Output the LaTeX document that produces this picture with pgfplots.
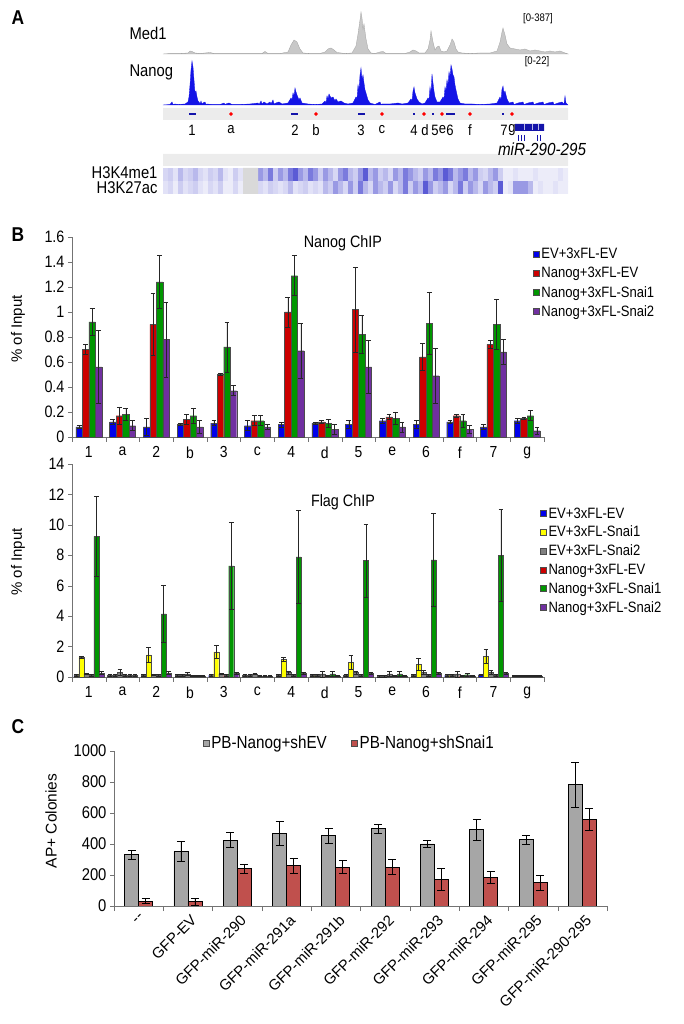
\documentclass[border=0pt]{standalone}
\usepackage{fontspec}
\setmainfont{Liberation Sans}[FakeStretch=0.87]
\setsansfont{Liberation Sans}[FakeStretch=0.87]
\newfontfamily\rotfont{Liberation Sans}
\usepackage{pgfplots}
\pgfplotsset{compat=1.18}

\definecolor{medgray}{RGB}{200,200,200}
\definecolor{trackblue}{RGB}{20,20,230}
\definecolor{featblue}{RGB}{20,20,170}
\definecolor{evblue}{RGB}{0,0,235}
\definecolor{nred}{RGB}{204,0,0}
\definecolor{ngreen}{RGB}{0,150,0}
\definecolor{npurple}{RGB}{112,48,160}
\definecolor{fyellow}{RGB}{255,255,0}
\definecolor{fgray}{RGB}{128,128,128}
\definecolor{cgray}{RGB}{166,166,166}
\definecolor{cred}{RGB}{192,80,77}
\definecolor{bandgray}{RGB}{236,236,236}

\pgfplotsset{
  track/.style={scale only axis, hide axis, clip=false, width=405pt, xmin=163, xmax=568},
  eb/.style={error bars/.cd, y dir=both, y explicit,
    error bar style={black!85, line width=0.6pt},
    error mark options={rotate=90, mark size=2.4pt, black!85, line width=0.6pt}},
  ebc/.style={error bars/.cd, y dir=both, y explicit,
    error bar style={black, line width=0.8pt},
    error mark options={rotate=90, mark size=4pt, black, line width=0.8pt}},
  sq/.style={legend image code/.code={\draw[##1, draw=black!70] (0pt,-3pt) rectangle (6pt,3pt);}},
  chip/.style={
    scale only axis, width=472pt, xmin=-0.5, xmax=13.5, ymin=0, clip=false,
    axis x line=bottom, axis y line=left, axis line style={-, black!55},
    ybar=0pt,
    xtick={0,...,13}, xticklabels={1,a,2,b,3,c,4,d,5,e,6,f,7,g},
    major x tick style={draw=none},
    minor xtick={-0.5,0.5,...,13.5},
    tick align=outside, major tick length=4pt, minor tick length=5pt,
    every tick/.style={black!55},
    yticklabel style={font=\fontsize{16.5}{18}\selectfont},
    xticklabel style={font=\fontsize{16}{18}\selectfont, yshift=-2pt},
    /pgf/number format/assume math mode=true,
    legend cell align=left,
    legend style={draw=none, fill=none, row sep=3pt, font=\fontsize{15}{17}\selectfont},
    sq
  },
  nbar/.style={fill=#1, draw=black!70, line width=0.4pt}
}

\begin{document}
\begin{tikzpicture}[x=1pt,y=1pt]
\path[use as bounding box] (0,0) rectangle (683,1024);

% ---------------- panel A ----------------
\node[anchor=west, font=\fontsize{20}{22}\selectfont\bfseries] at (8,1006) {A};
\node[anchor=west, font=\fontsize{17}{19}\selectfont] at (126,991) {Med1};
\node[anchor=west, font=\fontsize{17}{19}\selectfont] at (126,952) {Nanog};
\node[font=\fontsize{11}{12}\selectfont] at (538,1005) {[0-387]};
\node[font=\fontsize{11}{12}\selectfont] at (537,962) {[0-22]};
\node[anchor=east, font=\fontsize{17}{19}\selectfont] at (161,851) {H3K4me1};
\node[anchor=east, font=\fontsize{17}{19}\selectfont] at (161,836) {H3K27ac};

\begin{axis}[track, at={(163pt,970pt)}, anchor=south west, height=42pt, ymin=0, ymax=42]
\addplot[fill=medgray, draw=medgray!80!black, line width=0.3pt] coordinates {
(163,0)(170,0.5)(180,0.5)(188,1)(190,3)(192,2.5)(195,1)(200,0.5)(210,1.5)(214,0.5)(225,0.5)(240,0.5)(250,0.5)(262,0.5)(265,2.5)(268,0.5)(280,0.5)(288,2)(291,9)(294,14)(297,12)(300,5)(303,1)(310,0.5)(320,0.5)(325,2)(328,5)(331,6)(334,4)(337,1.5)(345,0.5)(352,1)(356,8)(358,20)(360,34)(361,42)(362,36)(363,25)(364,30)(366,15)(368,5)(371,1)(375,0.5)(380,2)(383,2.5)(386,0.5)(395,0.5)(405,0.5)(410,2)(413,4)(416,3)(419,1)(425,1)(428,5)(430,14)(431,23)(433,12)(435,4)(437,7)(439,8)(441,3)(444,2)(447,3)(450,9)(452,15)(454,12)(456,5)(458,2)(462,1)(470,0.5)(480,1)(490,1)(497,3)(500,12)(502,22)(503,26)(505,19)(507,10)(510,6)(515,5)(520,4)(525,5)(530,3)(535,4)(540,3)(545,2)(550,3)(555,2)(560,3)(565,1)(568,0)
} \closedcycle;
\end{axis}

\begin{axis}[track, at={(163pt,919pt)}, anchor=south west, height=44pt, ymin=0, ymax=44]
\addplot[fill=trackblue, draw=trackblue, line width=0.3pt] coordinates {
(163,0)(170,0.5)(172,3)(173,0.5)(175,1)(178,0.5)(185,1)(188,3)(189,8)(190,20)(191,35)(192,44)(193,38)(194,25)(195,12)(196,14)(197,8)(198,4)(199,3)(200,1)(201,4)(202,1)(203,2)(205,3)(206,0.5)(207,1)(212,0.5)(220,0.5)(224,2)(225,0.5)(226,1)(229,2)(232,0.5)(240,0.5)(250,1)(258,2)(259,0.5)(261,4)(262,1)(264,3)(267,1)(270,3)(271,1)(273,5)(274,1)(276,2)(279,3)(282,1)(288,2)(291,7)(292,5)(293,12)(294,9)(295,17)(296,13)(297,10)(299,5)(300,7)(302,2)(308,1)(315,0.5)(322,1)(325,4)(326,2)(327,9)(328,6)(329,11)(331,7)(333,8)(335,4)(336,6)(338,3)(341,4)(344,2)(348,1)(353,2)(356,8)(357,6)(358,20)(359,15)(360,30)(361,37)(362,26)(363,30)(364,22)(365,15)(366,12)(368,5)(370,2)(375,0.5)(380,3)(381,0.5)(382,1)(390,1)(398,2)(402,1)(408,2)(411,6)(412,4)(413,14)(414,18)(415,12)(416,9)(417,6)(419,3)(422,1)(425,2)(428,7)(429,5)(430,18)(431,12)(432,31)(433,22)(434,14)(435,8)(437,3)(440,3)(443,8)(444,6)(445,18)(446,14)(447,25)(448,20)(449,33)(450,28)(451,40)(452,36)(453,30)(454,28)(455,20)(456,15)(458,6)(460,2)(465,1)(472,1)(480,0.5)(490,1)(497,2)(500,8)(501,5)(502,16)(503,19)(504,12)(505,14)(507,6)(509,2)(513,3)(514,0.5)(518,2)(523,3)(524,0.5)(528,2)(533,3)(534,0.5)(538,2)(543,3)(544,0.5)(548,2)(553,3)(554,0.5)(558,2)(562,3)(564,1)(565,9)(566,2)(568,0)
} \closedcycle;
\end{axis}

% feature band, gene, second band (y in pixels from the top)
\begin{axis}[track, at={(163pt,858pt)}, anchor=south west, height=60pt, ymin=106, ymax=166, y dir=reverse]
\addplot[draw=none, fill=bandgray] coordinates {(163,108)(568,108)(568,120)(163,120)(163,108)};
\addplot[draw=none, fill=bandgray] coordinates {(163,154)(568,154)(568,166)(163,166)(163,154)};
\addplot[featblue, line width=2.6pt, unbounded coords=jump] coordinates {
(189,114)(196,114) (nan,nan) (291,114)(298,114) (nan,nan) (358,114)(365,114) (nan,nan)
(413,114)(415,114) (nan,nan) (432,114)(434,114) (nan,nan) (446,114)(455,114) (nan,nan) (502,114)(504,114)};
\addplot[only marks, mark=*, mark size=1.6pt, red, mark options={draw=red}] coordinates {
(231,114)(316,114)(382,114)(424,114)(442,114)(470,114)(512,114)};
\addplot[draw=none, fill=featblue] coordinates {(515,124)(544,124)(544,131)(515,131)(515,124)};
\addplot[white!70!featblue, line width=0.4pt, unbounded coords=jump] coordinates {
(524,124.5)(524,130.5) (nan,nan) (532,124.5)(532,130.5) (nan,nan) (538,124.5)(538,130.5)};
\addplot[featblue, line width=0.9pt, unbounded coords=jump] coordinates {
(518,135)(518,141) (nan,nan) (521,135)(521,141) (nan,nan) (524,135)(524,141) (nan,nan)
(537,135)(537,141) (nan,nan) (540,135)(540,141)};
\begin{scope}[font=\fontsize{15}{17}\selectfont]
\node at (axis cs:192,130) {1};
\node at (axis cs:231,130) {a};
\node at (axis cs:295,130) {2};
\node at (axis cs:316,130) {b};
\node at (axis cs:361,130) {3};
\node at (axis cs:382,130) {c};
\node at (axis cs:414,130) {4};
\node at (axis cs:425,130) {d};
\node at (axis cs:435,130) {5};
\node at (axis cs:442.5,130) {e};
\node at (axis cs:450,130) {6};
\node at (axis cs:470,130) {f};
\node at (axis cs:504,130) {7};
\node at (axis cs:512,130) {g};
\end{scope}
\node[font=\fontsize{17.5}{19}\selectfont\itshape] at (axis cs:542,149) {miR-290-295};
\end{axis}

% histone heat map
\begin{axis}[scale only axis, hide axis, at={(163pt,830pt)}, anchor=south west,
  width=405pt, height=26pt, xmin=-0.5, xmax=80.5, ymin=-0.5, ymax=1.5, y dir=reverse,
  colormap={hist}{rgb255=(246,246,252) rgb255=(200,200,240) rgb255=(60,60,205)},
  point meta min=0, point meta max=9]
\addplot[matrix plot*, mesh/cols=81, point meta=explicit] table[row sep=\\,
  x expr={mod(\coordindex,81)}, y expr={floor(\coordindex/81)}, meta=c] {
c\\ 3\\4\\2\\5\\3\\4\\5\\3\\2\\4\\3\\5\\2\\1\\4\\2\\ 0\\0\\0\\
6\\5\\7\\4\\6\\5\\7\\8\\6\\5\\7\\6\\4\\6\\5\\3\\6\\7\\5\\4\\6\\8\\5\\6\\4\\5\\3\\6\\5\\7\\
6\\5\\4\\6\\5\\7\\6\\8\\7\\5\\6\\7\\5\\6\\4\\3\\5\\6\\4\\
1\\1\\2\\1\\1\\1\\2\\1\\1\\1\\1\\2\\1\\
2\\3\\1\\4\\2\\3\\4\\2\\1\\3\\2\\4\\1\\1\\3\\1\\ 0\\0\\0\\
3\\2\\4\\3\\2\\3\\5\\2\\3\\4\\2\\3\\2\\
5\\4\\6\\5\\3\\6\\4\\7\\5\\3\\6\\5\\4\\6\\3\\5\\7\\4\\6\\5\\8\\6\\4\\5\\6\\3\\5\\7\\4\\6\\5\\3\\6\\5\\4\\8\\
1\\2\\ 6\\6\\6\\5\\ 1\\2\\1\\1\\2\\1\\1\\
};
\addplot[draw=none, fill=black!15] coordinates {(15.5,-0.5)(18.5,-0.5)(18.5,1.5)(15.5,1.5)(15.5,-0.5)};
\addplot[red!40!black, line width=0.8pt] coordinates {(-0.5,1.55)(80.5,1.55)};
\end{axis}

% ---------------- panel B, Nanog ChIP ----------------
\node[anchor=west, font=\fontsize{20}{22}\selectfont\bfseries] at (8,789) {B};
\node[rotate=90, font=\fontsize{15}{17}\selectfont\rotfont] at (18,695) {\% of Input};
\begin{axis}[chip, at={(72pt,587pt)}, anchor=south west, height=200pt, ymax=1.6,
  ytick={0,0.2,...,1.6}, bar width=6.5pt,
  legend style={at={(0.97,0.965)}, anchor=north west}]
\addplot[nbar=evblue, eb] coordinates {(0,0.08)+-(0,0.01) (1,0.12)+-(0,0.02) (2,0.08)+-(0,0.07) (3,0.10)+-(0,0.01) (4,0.11)+-(0,0.02) (5,0.09)+-(0,0.04) (6,0.10)+-(0,0.02) (7,0.11)+-(0,0.01) (8,0.10)+-(0,0.03) (9,0.13)+-(0,0.02) (10,0.10)+-(0,0.03) (11,0.12)+-(0,0.01) (12,0.08)+-(0,0.02) (13,0.13)+-(0,0.02)};
\addlegendentry{EV+3xFL-EV}
\addplot[nbar=nred, eb] coordinates {(0,0.70)+-(0,0.04) (1,0.17)+-(0,0.07) (2,0.90)+-(0,0.25) (3,0.14)+-(0,0.04) (4,0.50)+-(0,0.01) (5,0.13)+-(0,0.04) (6,1.00)+-(0,0.12) (7,0.12)+-(0,0.01) (8,1.02)+-(0,0.34) (9,0.16)+-(0,0.02) (10,0.64)+-(0,0.11) (11,0.17)+-(0,0.01) (12,0.74)+-(0,0.03) (13,0.15)+-(0,0.01)};
\addlegendentry{Nanog+3xFL-EV}
\addplot[nbar=ngreen, eb] coordinates {(0,0.92)+-(0,0.11) (1,0.18)+-(0,0.05) (2,1.24)+-(0,0.21) (3,0.17)+-(0,0.06) (4,0.72)+-(0,0.20) (5,0.13)+-(0,0.04) (6,1.29)+-(0,0.16) (7,0.11)+-(0,0.03) (8,0.82)+-(0,0.15) (9,0.15)+-(0,0.05) (10,0.91)+-(0,0.25) (11,0.13)+-(0,0.05) (12,0.90)+-(0,0.20) (13,0.17)+-(0,0.04)};
\addlegendentry{Nanog+3xFL-Snai1}
\addplot[nbar=npurple, eb] coordinates {(0,0.56)+-(0,0.29) (1,0.09)+-(0,0.04) (2,0.78)+-(0,0.30) (3,0.08)+-(0,0.05) (4,0.37)+-(0,0.04) (5,0.08)+-(0,0.02) (6,0.69)+-(0,0.22) (7,0.06)+-(0,0.04) (8,0.56)+-(0,0.21) (9,0.08)+-(0,0.04) (10,0.49)+-(0,0.22) (11,0.06)+-(0,0.03) (12,0.68)+-(0,0.10) (13,0.05)+-(0,0.03)};
\addlegendentry{Nanog+3xFL-Snai2}
\node[font=\fontsize{16.5}{18}\selectfont] at (rel axis cs:0.574,0.97) {Nanog ChIP};
\end{axis}

% ---------------- panel B, Flag ChIP ----------------
\node[rotate=90, font=\fontsize{15}{17}\selectfont\rotfont] at (18,462) {\% of Input};
\begin{axis}[chip, at={(72pt,347pt)}, anchor=south west, height=213pt, ymax=14,
  ytick={0,2,...,14}, bar width=5pt,
  legend style={at={(0.985,0.815)}, anchor=north west, row sep=2.5pt}]
\addplot[nbar=evblue, eb] coordinates {(0,0.1)+-(0,0.05) (1,0.1)+-(0,0.05) (2,0.1)+-(0,0.05) (3,0.1)+-(0,0.05) (4,0.1)+-(0,0.05) (5,0.1)+-(0,0.05) (6,0.1)+-(0,0.05) (7,0.1)+-(0,0.05) (8,0.1)+-(0,0.05) (9,0.05)+-(0,0.05) (10,0.1)+-(0,0.05) (11,0.1)+-(0,0.05) (12,0.15)+-(0,0.05) (13,0.05)+-(0,0.03)};
\addlegendentry{EV+3xFL-EV}
\addplot[nbar=fyellow, eb] coordinates {(0,1.3)+-(0,0.05) (1,0.1)+-(0,0.05) (2,1.45)+-(0,0.5) (3,0.1)+-(0,0.05) (4,1.65)+-(0,0.45) (5,0.1)+-(0,0.05) (6,1.15)+-(0,0.15) (7,0.1)+-(0,0.05) (8,0.95)+-(0,0.45) (9,0.05)+-(0,0.05) (10,0.85)+-(0,0.4) (11,0.1)+-(0,0.05) (12,1.35)+-(0,0.45) (13,0.05)+-(0,0.03)};
\addlegendentry{EV+3xFL-Snai1}
\addplot[nbar=fgray, eb] coordinates {(0,0.2)+-(0,0.05) (1,0.3)+-(0,0.2) (2,0.15)+-(0,0.05) (3,0.2)+-(0,0.1) (4,0.2)+-(0,0.05) (5,0.2)+-(0,0.05) (6,0.3)+-(0,0.1) (7,0.2)+-(0,0.2) (8,0.3)+-(0,0.1) (9,0.2)+-(0,0.15) (10,0.3)+-(0,0.15) (11,0.2)+-(0,0.2) (12,0.3)+-(0,0.15) (13,0.05)+-(0,0.03)};
\addlegendentry{EV+3xFL-Snai2}
\addplot[nbar=nred, eb] coordinates {(0,0.1)+-(0,0.05) (1,0.1)+-(0,0.05) (2,0.1)+-(0,0.05) (3,0.05)+-(0,0.03) (4,0.1)+-(0,0.05) (5,0.05)+-(0,0.03) (6,0.1)+-(0,0.05) (7,0.05)+-(0,0.03) (8,0.1)+-(0,0.05) (9,0.05)+-(0,0.03) (10,0.1)+-(0,0.05) (11,0.05)+-(0,0.03) (12,0.1)+-(0,0.05) (13,0.05)+-(0,0.03)};
\addlegendentry{Nanog+3xFL-EV}
\addplot[nbar=ngreen, eb] coordinates {(0,9.25)+-(0,2.6) (1,0.1)+-(0,0.05) (2,4.15)+-(0,1.9) (3,0.05)+-(0,0.03) (4,7.3)+-(0,2.85) (5,0.05)+-(0,0.03) (6,7.9)+-(0,3.05) (7,0.2)+-(0,0.15) (8,7.65)+-(0,2.4) (9,0.2)+-(0,0.15) (10,7.7)+-(0,3.05) (11,0.15)+-(0,0.1) (12,8.0)+-(0,3.0) (13,0.05)+-(0,0.03)};
\addlegendentry{Nanog+3xFL-Snai1}
\addplot[nbar=npurple, eb] coordinates {(0,0.25)+-(0,0.1) (1,0.1)+-(0,0.05) (2,0.25)+-(0,0.1) (3,0.05)+-(0,0.03) (4,0.25)+-(0,0.05) (5,0.05)+-(0,0.03) (6,0.25)+-(0,0.05) (7,0.05)+-(0,0.03) (8,0.25)+-(0,0.05) (9,0.05)+-(0,0.03) (10,0.25)+-(0,0.05) (11,0.05)+-(0,0.03) (12,0.25)+-(0,0.05) (13,0.05)+-(0,0.03)};
\addlegendentry{Nanog+3xFL-Snai2}
\node[font=\fontsize{16.5}{18}\selectfont] at (rel axis cs:0.574,0.82) {Flag ChIP};
\end{axis}

% ---------------- panel C ----------------
\node[anchor=west, font=\fontsize{20}{22}\selectfont\bfseries] at (8,297) {C};
\node[rotate=90, font=\fontsize{15.5}{17}\selectfont\rotfont] at (51,203) {AP+ Colonies};
\begin{axis}[scale only axis, at={(114pt,118pt)}, anchor=south west, width=493pt, height=155pt,
  xmin=-0.5, xmax=9.5, ymin=0, ymax=1000, ytick={0,200,...,1000},
  axis x line=bottom, axis y line=left, axis line style={-, black!55},
  ybar=0pt, bar width=14pt,
  xtick={0,...,9},
  xticklabels={--,GFP-EV,GFP-miR-290,GFP-miR-291a,GFP-miR-291b,GFP-miR-292,GFP-miR-293,GFP-miR-294,GFP-miR-295,GFP-miR-290-295},
  major x tick style={draw=none}, minor xtick={-0.5,0.5,...,9.5},
  tick align=outside, major tick length=4pt, minor tick length=5pt,
  every tick/.style={black!55},
  yticklabel style={font=\fontsize{17}{19}\selectfont},
  xticklabel style={font=\fontsize{15}{17}\selectfont\rotfont, rotate=45, anchor=north east, inner sep=1pt, yshift=-3pt},
  /pgf/number format/assume math mode=true, /pgf/number format/1000 sep={},
  legend columns=2, sq,
  legend style={draw=none, fill=none, at={(0.477,1.05)}, anchor=center,
    font=\fontsize{17.5}{19}\selectfont, /tikz/every even column/.append style={column sep=22pt}}]
\addplot[fill=cgray, draw=black, line width=0.8pt, ebc] coordinates {(0,330)+-(0,28) (1,350)+-(0,65) (2,425)+-(0,50) (3,468)+-(0,75) (4,455)+-(0,48) (5,498)+-(0,28) (6,400)+-(0,20) (7,493)+-(0,68) (8,427)+-(0,30) (9,782)+-(0,145)};
\addlegendentry{PB-Nanog+shEV}
\addplot[fill=cred, draw=black, line width=0.8pt, ebc] coordinates {(0,32)+-(0,15) (1,28)+-(0,22) (2,240)+-(0,30) (3,260)+-(0,50) (4,250)+-(0,42) (5,250)+-(0,48) (6,170)+-(0,70) (7,185)+-(0,40) (8,150)+-(0,48) (9,557)+-(0,70)};
\addlegendentry{PB-Nanog+shSnai1}
\end{axis}
\end{tikzpicture}
\end{document}
